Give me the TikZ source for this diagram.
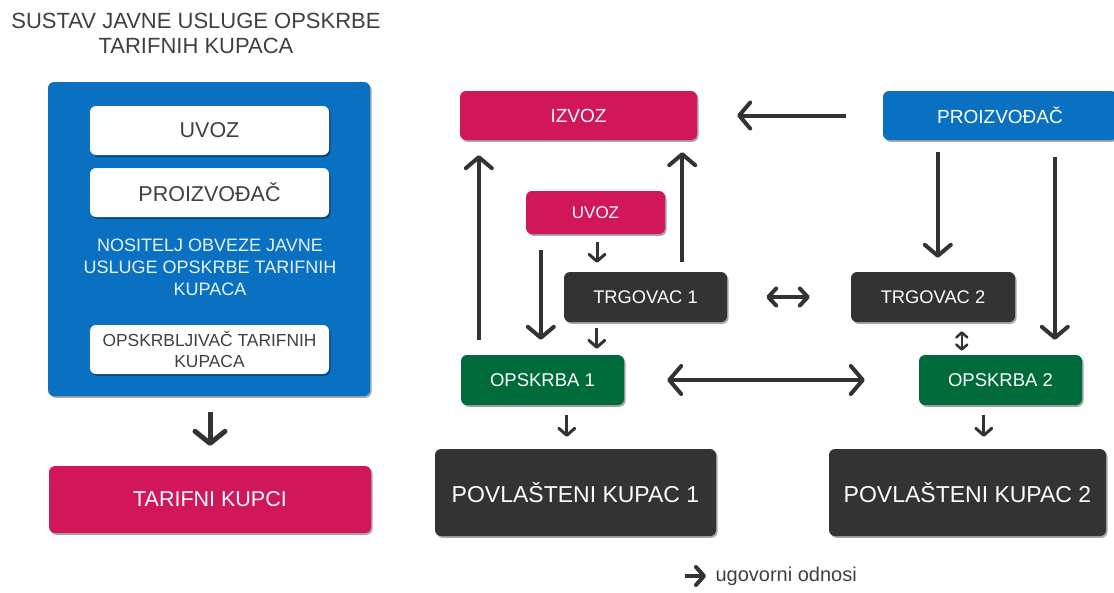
\documentclass[tikz,border=0pt]{standalone}
\usepackage{fontspec}
\setmainfont{Liberation Sans}
\usetikzlibrary{arrows.meta,calc,shadows}
\definecolor{crim}{HTML}{D2165A}
\definecolor{bblue}{HTML}{0A70C2}
\definecolor{dgray}{HTML}{333333}
\definecolor{dgreen}{HTML}{006B3A}
\definecolor{tgray}{HTML}{404040}
\definecolor{lcyan}{HTML}{E6F3FF}
\tikzset{
  shad/.style={drop shadow={shadow xshift=1.5pt,shadow yshift=-1.8pt,opacity=0.35,fill=black}},
  box/.style={rounded corners=6pt,inner sep=0pt,align=center,shad},
  wbox/.style={box,fill=white,text=tgray},
  cbox/.style={box,fill=crim,text=white},
  bbox/.style={box,fill=bblue,text=white},
  gbox/.style={box,fill=dgreen,text=white},
  kbox/.style={box,fill=dgray,text=white},
  arrbig/.style={draw=dgray,line width=4pt,-{Straight Barb[length=11pt,width=26pt,round]}},
  arrsm/.style={draw=dgray,line width=3pt,-{Straight Barb[length=7pt,width=16pt,round]}},
  dblmid/.style={draw=dgray,line width=4pt,{Straight Barb[length=8pt,width=17pt,round]}-{Straight Barb[length=8pt,width=17pt,round]}},
  dblbig/.style={draw=dgray,line width=4pt,{Straight Barb[length=12pt,width=28pt,round]}-{Straight Barb[length=12pt,width=28pt,round]}},
  dblsm/.style={draw=dgray,line width=2.5pt,{Straight Barb[length=5pt,width=11pt,round]}-{Straight Barb[length=5pt,width=11pt,round]}},
  arrmain/.style={draw=dgray,line width=5pt,-{Straight Barb[length=12pt,width=30pt,round]}},
}
\begin{document}
\begin{tikzpicture}[x=1pt,y=-1pt]
\clip (0,0) rectangle (1114,592);
\useasboundingbox (0,0) rectangle (1114,592);
\fill[white] (0,0) rectangle (1114,592);
% title
\node[text=tgray,align=center,font=\fontsize{22}{25}\selectfont] (title) at (196,33) {SUSTAV JAVNE USLUGE OPSKRBE\\TARIFNIH KUPACA};
% left system
\node[bbox,minimum width=322pt,minimum height=314pt] (blue) at (209,239) {};
\node[wbox,minimum width=239pt,minimum height=49pt,font=\fontsize{21.5}{25}\selectfont] (uvozW) at (209.5,130.5) {UVOZ};
\node[wbox,minimum width=239pt,minimum height=49pt,font=\fontsize{21.5}{25}\selectfont] (proizW) at (209.5,192.5) {PROIZVOĐAČ};
\node[text=lcyan,align=center,font=\fontsize{18}{22}\selectfont] (nos) at (210,267) {NOSITELJ OBVEZE JAVNE\\USLUGE OPSKRBE TARIFNIH\\KUPACA};
\node[wbox,minimum width=239pt,minimum height=49pt,font=\fontsize{17.4}{21}\selectfont] (opskrW) at (209.5,349.5) {OPSKRBLJIVAČ TARIFNIH\\KUPACA};
\node[cbox,minimum width=322pt,minimum height=67pt,font=\fontsize{21.5}{25}\selectfont] (tarif) at (210,499.5) {TARIFNI KUPCI};
\draw[arrmain] ($(blue.south)+(1,16)$) -- ($(tarif.north)+(0,-20)$);
% right market
\node[cbox,minimum width=237pt,minimum height=49pt,font=\fontsize{19}{22}\selectfont] (izvoz) at (578.5,115.5) {IZVOZ};
\node[bbox,minimum width=234pt,minimum height=49pt,font=\fontsize{19}{22}\selectfont] (proizR) at (1000,115.5) {PROIZVOĐAČ};
\node[cbox,minimum width=139pt,minimum height=43pt,font=\fontsize{17}{20}\selectfont] (uvozR) at (595.5,212.5) {UVOZ};
\node[kbox,minimum width=163pt,minimum height=50pt,font=\fontsize{18.3}{22}\selectfont] (trg1) at (645.5,297) {TRGOVAC 1};
\node[kbox,minimum width=164pt,minimum height=50pt,font=\fontsize{18.3}{22}\selectfont] (trg2) at (933,297) {TRGOVAC 2};
\node[gbox,minimum width=163pt,minimum height=50pt,font=\fontsize{18.5}{22}\selectfont] (op1) at (542.5,380) {OPSKRBA 1};
\node[gbox,minimum width=163pt,minimum height=50pt,font=\fontsize{18.5}{22}\selectfont] (op2) at (1000.5,380) {OPSKRBA 2};
\node[kbox,minimum width=281pt,minimum height=87pt,font=\fontsize{23}{26}\selectfont] (pk1) at (575.5,492.5) {POVLAŠTENI KUPAC 1};
\node[kbox,minimum width=277pt,minimum height=87pt,font=\fontsize{23}{26}\selectfont] (pk2) at (967.5,492.5) {POVLAŠTENI KUPAC 2};
% connectors
\draw[arrbig] ($(proizR.west)+(-37,0)$) -- ($(izvoz.east)+(40,0)$);
\draw[arrbig] ($(op1.north west)+(18,-15)$) -- ($(op1.north west |- izvoz.south)+(18,15)$);
\draw[arrbig] ($(trg1.north east)+(-45,-10)$) -- ($(trg1.north east |- izvoz.south)+(-45,12)$);
\draw[arrsm] ($(uvozR.south)+(1.5,8)$) -- ($(uvozR.south |- trg1.north)+(1.5,-9)$);
\draw[arrbig] ($(uvozR.south west)+(15,16)$) -- ($(uvozR.south west |- op1.north)+(15,-15)$);
\draw[arrsm] ($(trg1.south west)+(33,6)$) -- ($(trg1.south west |- op1.north)+(33,-6)$);
\draw[dblmid] ($(trg1.east)+(39,0)$) -- ($(trg2.west)+(-41,0)$);
\draw[dblbig] ($(op1.east)+(43,0)$) -- ($(op2.west)+(-54,0)$);
\draw[arrbig] ($(proizR.south west)+(55,12)$) -- ($(proizR.south west |- trg2.north)+(55,-14)$);
\draw[arrbig] ($(proizR.south west)+(172,17)$) -- ($(proizR.south west |- op2.north)+(172,-15)$);
\draw[dblsm] ($(trg2.south west)+(111,9)$) -- ($(trg2.south west |- op2.north)+(111,-4)$);
\draw[arrsm] ($(op1.south west)+(106,10)$) -- ($(op1.south west |- pk1.north)+(106,-12)$);
\draw[arrsm] ($(op2.south west)+(65,10)$) -- ($(op2.south west |- pk2.north)+(65,-12)$);
% legend
\node[anchor=west,text=tgray,font=\fontsize{20}{24}\selectfont] (leg) at (712,576) {ugovorni odnosi};
\coordinate (lg) at (685,576);
\draw[draw=dgray,line width=4pt,-{Straight Barb[length=8pt,width=18pt,round]}] (lg) -- ($(leg.west)+(-6,0)$);
\end{tikzpicture}
\end{document}
